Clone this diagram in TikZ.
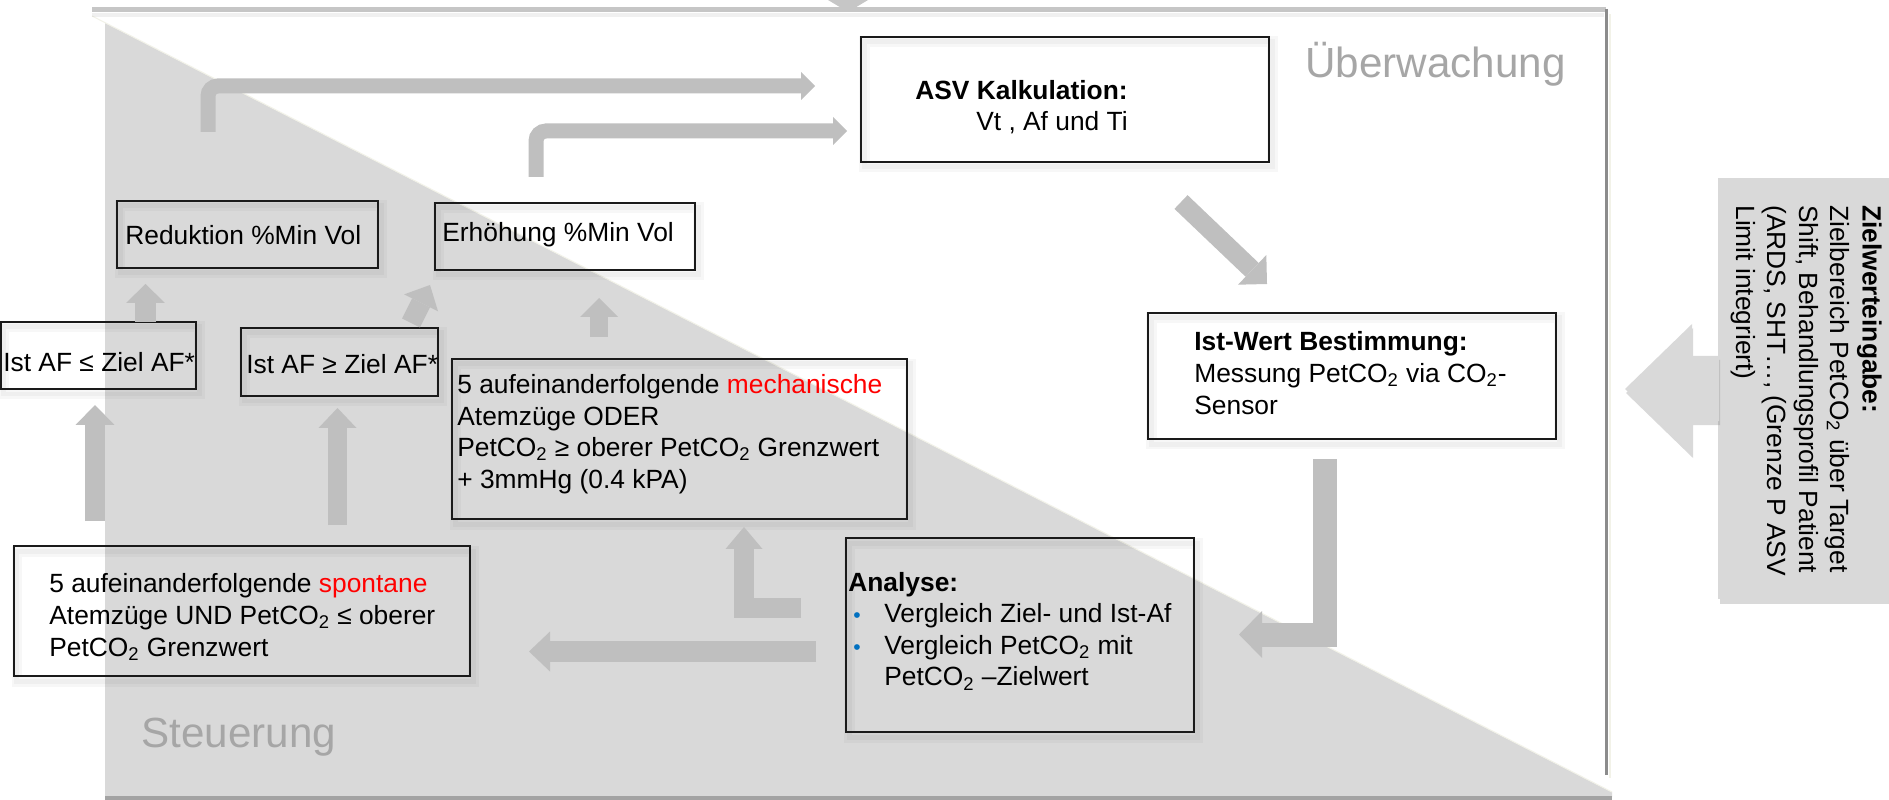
\documentclass[tikz,border=0pt]{standalone}
\usepackage{fontspec}
\setmainfont{Liberation Sans}
\usetikzlibrary{arrows.meta,fit,shadows}

\definecolor{regiongray}{HTML}{D9D9D9}
\definecolor{arrowgray}{HTML}{BFBFBF}
\definecolor{labelgray}{HTML}{A6A6A6}
\definecolor{framegray}{HTML}{C6C6C6}
\definecolor{edgegray}{HTML}{8C8C8C}
\definecolor{bottomgray}{HTML}{A3A3A3}
\definecolor{creamline}{HTML}{F2F2E8}
\definecolor{bulletblue}{HTML}{0070C0}
\definecolor{boxline}{HTML}{1A1A1A}

\newcommand{\subtwo}{\textsubscript{2}}
\newcommand{\bulletitem}{\makebox[0.72cm][l]{\hspace*{0.1cm}\textcolor{bulletblue}{\fontsize{12}{14}\selectfont •}}}

\begin{document}
\begin{tikzpicture}[x=0.02cm, y=-0.02cm,
  box/.style={draw=boxline, line width=0.03cm, inner sep=0pt,
      preaction={draw=black, draw opacity=0.03, line width=0.22cm,
                 transform canvas={shift={(0.06cm,-0.1cm)}}},
      preaction={draw=black, draw opacity=0.03, line width=0.1cm,
                 transform canvas={shift={(0.06cm,-0.1cm)}}}},
  txt/.style={inner sep=0pt, align=left, font=\fontsize{15}{18}\selectfont},
  biglabel/.style={inner sep=0pt, text=labelgray, font=\fontsize{24}{28}\selectfont},
  barrow/.style n args={3}{draw=arrowgray, line width=#1, line join=miter,
      -{Triangle[width=#2, length=#3, line width=0pt]}},
]
\useasboundingbox (0,0) rectangle (1889,800);

% control region below the diagonal, with its light edge
\fill[regiongray] (105,21) -- (1612,792) -- (1612,797) -- (105,797) -- cycle;
\draw[white, line width=0.08cm] (92,14) -- (1612,790);
\draw[creamline, line width=0.02cm] (92,16) -- (1612,792);

% outer frame
\draw[framegray, line width=0.1cm] (92,10) -- (1606,10);
\draw[black, opacity=0.06, line width=0.08cm] (92,15) -- (1604,15);
\draw[edgegray, line width=0.06cm] (1606,9) -- (1606,775);
\draw[creamline, line width=0.05cm] (1610,14) -- (1610,778);
\draw[bottomgray, line width=0.08cm] (105,798) -- (1612,798);
\fill[framegray] (828,0) -- (868,0) -- (848,12) -- cycle;

% section labels
\node[biglabel, anchor=base west] (ueb) at (1305,78) {Überwachung};
\node[biglabel, anchor=base west] (steu) at (141,747) {Steuerung};

% boxes
\node[box, fit={(861,37) (1269,162)}] (asv) {};
\node[txt, anchor=east, align=right] (asvt) at (1128,107) {\textbf{ASV Kalkulation:}\\Vt , Af und Ti};

\node[box, fit={(1148,313) (1556,439)}] (ist) {};
\node[txt, anchor=west] (istt) at (1194,373) {\textbf{Ist-Wert Bestimmung:}\\Messung PetCO\subtwo{} via CO\subtwo-\\Sensor};

\node[box, fit={(846,538) (1194,732)}] (ana) {};
\node[txt, anchor=west] (anat) at (848,631) {\textbf{Analyse:}\\
  \bulletitem Vergleich Ziel- und Ist-Af\\
  \bulletitem Vergleich PetCO\subtwo{} mit\\
  \hspace*{0.72cm}PetCO\subtwo{} –Zielwert};

\node[box, fit={(452,359) (907,519)}] (mech) {};
\node[txt, anchor=west] (mecht) at (457,434) {5 aufeinanderfolgende \textcolor{red}{mechanische}\\
  Atemzüge ODER\\
  PetCO\subtwo{} ≥ oberer PetCO\subtwo{} Grenzwert\\
  + 3mmHg (0.4 kPA)};

\node[box, fit={(14,546) (470,676)}] (spon) {};
\node[txt, anchor=west] (spont) at (49,617) {5 aufeinanderfolgende \textcolor{red}{spontane}\\
  Atemzüge UND PetCO\subtwo{} ≤ oberer\\
  PetCO\subtwo{} Grenzwert};

\node[box, fit={(117,201) (378,268)}] (red) {};
\node[txt, anchor=west] (redt) at (125,235) {Reduktion \%Min Vol};

\node[box, fit={(435,203) (695,270)}] (erh) {};
\node[txt, anchor=west] (erht) at (442,235) {Erhöhung \%Min Vol};

\node[box, fit={(1,322) (196,389)}] (istle) {};
\node[txt, anchor=west] (istlet) at (3,362) {Ist AF ≤ Ziel AF*};

\node[box, fit={(241,328) (438,396)}] (istge) {};
\node[txt, anchor=west] (istget) at (246,364) {Ist AF ≥ Ziel AF*};

% target value input
\node[fill=regiongray, inner sep=0pt,
      drop shadow={shadow xshift=0.03cm, shadow yshift=-0.1cm, opacity=0.3},
      fit={(1718,178) (1900,599)}] (ziel) {};
\node[txt, rotate=-90, anchor=north west] (zielt) at (1882,205) {\textbf{Zielwerteingabe:}\\
  Zielbereich PetCO\subtwo{} über Target\\
  Shift, Behandlungsprofil Patient\\
  (ARDS, SHT…, (Grenze P ASV\\
  Limit integriert)};
\path[fill=regiongray, drop shadow={shadow xshift=0.02cm, shadow yshift=-0.08cm, opacity=0.3}]
  (1719,356) -- (1692,356) -- (1692,324) -- (1625,389) -- (1692,454) -- (1692,421) -- (1719,421) -- cycle;

% arrow end points
\coordinate (a1s) at (208,132);  \coordinate (a1e) at (815,86);
\coordinate (a2s) at (536,177);  \coordinate (a2e) at (847,131);
\coordinate (a3s) at (1181,202); \coordinate (a3e) at (1267,284);
\coordinate (a4s) at (1325,459); \coordinate (a4c) at (1325,634.5); \coordinate (a4e) at (1239,634.5);
\coordinate (a5s) at (816,651.5); \coordinate (a5e) at (529,651.5);
\coordinate (a6s) at (801,607.5); \coordinate (a6c) at (744,607.5); \coordinate (a6e) at (744,527);
\coordinate (a7s) at (95,521);   \coordinate (a7e) at (95,405);
\coordinate (a8s) at (337.5,525); \coordinate (a8e) at (337.5,408);
\coordinate (a9s) at (145.5,322); \coordinate (a9e) at (145.5,284);
\coordinate (a10s) at (411,323); \coordinate (a10e) at (430,285);
\coordinate (a11s) at (599,337); \coordinate (a11e) at (599,298);

% flow arrows
\draw[barrow={0.3cm}{0.56cm}{0.28cm}, rounded corners=0.2cm] (a1s) |- (a1e);
\draw[barrow={0.3cm}{0.56cm}{0.28cm}, rounded corners=0.2cm] (a2s) |- (a2e);
\draw[barrow={0.38cm}{0.82cm}{0.41cm}] (a3s) -- (a3e);
\draw[barrow={0.48cm}{0.94cm}{0.46cm}] (a4s) -- (a4c) -- (a4e);
\draw[barrow={0.42cm}{0.8cm}{0.42cm}] (a5s) -- (a5e);
\draw[barrow={0.4cm}{0.74cm}{0.44cm}] (a6s) -- (a6c) -- (a6e);
\draw[barrow={0.4cm}{0.78cm}{0.4cm}] (a7s) -- (a7e);
\draw[barrow={0.38cm}{0.76cm}{0.4cm}] (a8s) -- (a8e);
\draw[barrow={0.42cm}{0.78cm}{0.38cm}] (a9s) -- (a9e);
\draw[barrow={0.4cm}{0.76cm}{0.4cm}] (a10s) -- (a10e);
\draw[barrow={0.36cm}{0.76cm}{0.38cm}] (a11s) -- (a11e);
\end{tikzpicture}
\end{document}
